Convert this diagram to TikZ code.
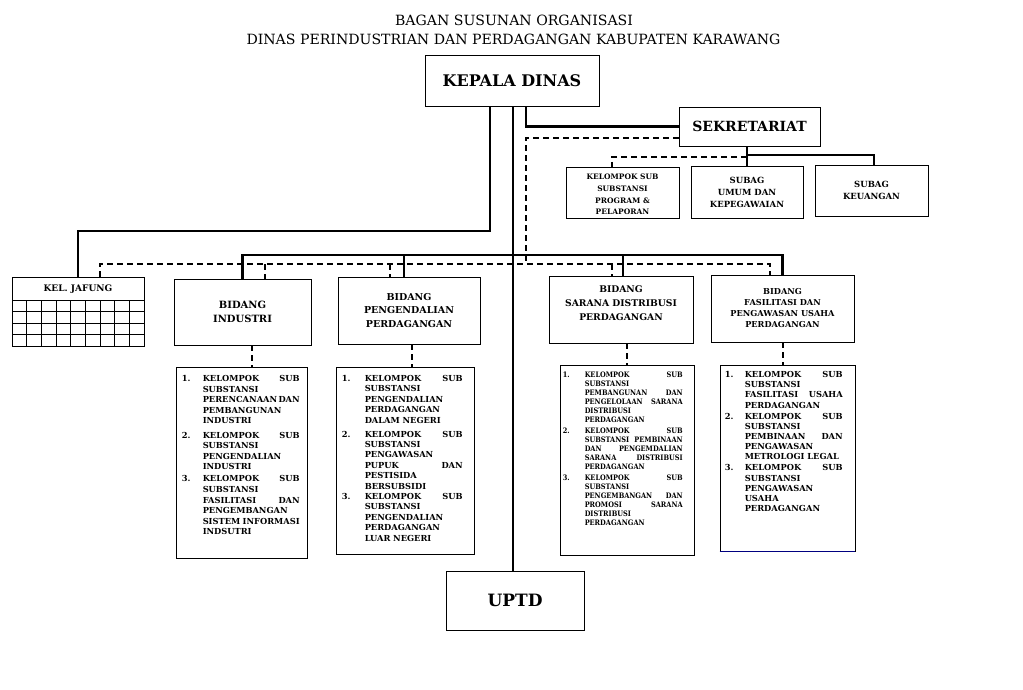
\documentclass[tikz,border=0pt]{standalone}
\usepackage{fontspec}
\setmainfont{DejaVu Serif}
\newfontfamily\lfontn[FakeStretch=0.88]{DejaVu Serif}
\hyphenpenalty=10000
\exhyphenpenalty=10000
\newlength\numw
\newcommand{\nl}{\unskip\nobreak\hfil\break}
\newcommand{\hs}{\nobreak\hfill}
\newcommand{\litem}[2]{\hangindent=\numw\hangafter=1\noindent\makebox[\numw][l]{#1}#2\par}
\begin{document}
\begin{tikzpicture}[x=1pt,y=-1pt,
  box/.style={draw, line width=0.9pt, inner sep=0pt, align=center},
  btxt/.style={inner sep=0pt, align=center},
  conn/.style={line width=2.2pt},
  dconn/.style={line width=1.2pt, dash pattern=on 6pt off 4pt},
  gridl/.style={line width=0.7pt},
  ltxt/.style={inner sep=0pt, anchor=base west}]
\useasboundingbox (0,0) rectangle (1023,690);
% titles
\node[font=\fontsize{14.1}{17}\selectfont] (t1) at (514,20) {BAGAN SUSUNAN ORGANISASI};
\node[font=\fontsize{14.1}{17}\selectfont] (t2) at (513.5,39) {DINAS PERINDUSTRIAN DAN PERDAGANGAN KABUPATEN KARAWANG};
% top boxes
\node[box, minimum width=174pt, minimum height=51pt, font=\bfseries\fontsize{16}{19}\selectfont] (kd) at (512,80.5) {KEPALA DINAS};
\node[box, minimum width=141pt, minimum height=39pt, font=\bfseries\fontsize{14}{17}\selectfont] (sek) at (749.5,126.5) {SEKRETARIAT};
\node[box, minimum width=113pt, minimum height=51pt] (kel) at (622.5,192.5) {};
\node[btxt, font=\bfseries\fontsize{7.5}{11.8}\selectfont] (kelt) at (622.5,194.5) {KELOMPOK SUB\\SUBSTANSI\\PROGRAM \&\\PELAPORAN};
\node[box, minimum width=112pt, minimum height=52pt, font=\bfseries\fontsize{8.5}{12}\selectfont] (umum) at (747,192) {SUBAG\\UMUM DAN\\KEPEGAWAIAN};
\node[box, minimum width=113pt, minimum height=51pt, font=\bfseries\fontsize{8.5}{12}\selectfont] (keu) at (871.5,190.5) {SUBAG\\KEUANGAN};
% jafung
\node[box, minimum width=132pt, minimum height=69pt] (jaf) at (78,311.5) {};
\node[font=\bfseries\fontsize{9}{10}\selectfont, inner sep=0pt] (jaft) at (78,289) {KEL. JAFUNG};
\foreach \yy in {300,311.5,323,334.5} \draw[gridl] (12,\yy) -- (144,\yy);
\foreach \k in {1,...,8} \draw[gridl] ({12+\k*14.667},300) -- ({12+\k*14.667},346);
% bidang
\node[box, minimum width=137pt, minimum height=66pt, font=\bfseries\fontsize{10}{14.5}\selectfont] (ind) at (242.5,312) {BIDANG\\INDUSTRI};
\node[box, minimum width=142pt, minimum height=67pt, font=\bfseries\fontsize{9.5}{13.5}\selectfont] (peng) at (409,310.5) {BIDANG\\PENGENDALIAN\\PERDAGANGAN};
\node[box, minimum width=144pt, minimum height=67pt] (sar) at (621,309.5) {};
\node[btxt, font=\bfseries\fontsize{9.2}{14}\selectfont] (sart) at (621,303.5) {BIDANG\\SARANA DISTRIBUSI\\PERDAGANGAN};
\node[box, minimum width=143pt, minimum height=67pt, font=\bfseries\fontsize{8.2}{11}\selectfont] (fas) at (782.5,308.5) {BIDANG\\FASILITASI DAN\\PENGAWASAN USAHA\\PERDAGANGAN};
% list boxes
\node[box, minimum width=131pt, minimum height=191pt] (lind) at (241.5,462.5) {};
\node[box, minimum width=138pt, minimum height=187pt] (lpeng) at (405,460.5) {};
\node[box, minimum width=134pt, minimum height=190pt] (lsar) at (627,460) {};
\node[box, minimum width=135pt, minimum height=186pt] (lfas) at (787.5,458) {};
\draw[line width=1pt, color=blue!50!black] (lfas.south west) -- (lfas.south east);
% list texts
\node[ltxt, text width=118pt, font=\bfseries\fontsize{8.3}{10.6}\selectfont] (lindt) at ([shift={(6,15)}]lind.north west) {\setlength\numw{21pt}%
\litem{1.}{KELOMPOK\hs SUB\nl SUBSTANSI\nl PERENCANAAN\hs DAN\nl PEMBANGUNAN\nl INDUSTRI}\vspace{3.5pt}%
\litem{2.}{KELOMPOK\hs SUB\nl SUBSTANSI\nl PENGENDALIAN\nl INDUSTRI}\vspace{1.5pt}%
\litem{3.}{KELOMPOK\hs SUB\nl SUBSTANSI\nl FASILITASI\hs DAN\nl PENGEMBANGAN\nl SISTEM\hs INFORMASI\nl INDSUTRI}};
\node[ltxt, text width=121pt, font=\bfseries\fontsize{8.3}{10.4}\selectfont] (lpengt) at ([shift={(6,15)}]lpeng.north west) {\setlength\numw{23pt}%
\litem{1.}{KELOMPOK\hs SUB\nl SUBSTANSI\nl PENGENDALIAN\nl PERDAGANGAN\nl DALAM~NEGERI}\vspace{3.5pt}%
\litem{2.}{KELOMPOK\hs SUB\nl SUBSTANSI\nl PENGAWASAN\nl PUPUK\hs DAN\nl PESTISIDA\nl BERSUBSIDI}%
\litem{3.}{KELOMPOK\hs SUB\nl SUBSTANSI\nl PENGENDALIAN\nl PERDAGANGAN\nl LUAR~NEGERI}};
\node[ltxt, text width=120pt, font=\lfontn\bfseries\fontsize{7.5}{9}\selectfont] (lsart) at ([shift={(3,12.7)}]lsar.north west) {\setlength\numw{22pt}%
\litem{1.}{KELOMPOK\hs SUB\nl SUBSTANSI\nl PEMBANGUNAN\hs DAN\nl PENGELOLAAN\hs SARANA\nl DISTRIBUSI\nl PERDAGANGAN}\vspace{2pt}%
\litem{2.}{KELOMPOK\hs SUB\nl SUBSTANSI\hs PEMBINAAN\nl DAN\hs PENGEMDALIAN\nl SARANA\hs DISTRIBUSI\nl PERDAGANGAN}\vspace{2.3pt}%
\litem{3.}{KELOMPOK\hs SUB\nl SUBSTANSI\nl PENGEMBANGAN\hs DAN\nl PROMOSI\hs SARANA\nl DISTRIBUSI\nl PERDAGANGAN}};
\node[ltxt, text width=118pt, font=\bfseries\fontsize{8.3}{10.2}\selectfont] (lfast) at ([shift={(5,13)}]lfas.north west) {\setlength\numw{20pt}%
\litem{1.}{KELOMPOK\hs SUB\nl SUBSTANSI\nl FASILITASI\hs USAHA\nl PERDAGANGAN}\vspace{0.8pt}%
\litem{2.}{KELOMPOK\hs SUB\nl SUBSTANSI\nl PEMBINAAN\hs DAN\nl PENGAWASAN\nl METROLOGI~LEGAL}\vspace{0.8pt}%
\litem{3.}{KELOMPOK\hs SUB\nl SUBSTANSI\nl PENGAWASAN\nl USAHA\nl PERDAGANGAN}};
% uptd
\node[box, minimum width=138pt, minimum height=59pt, font=\bfseries\fontsize{17}{20}\selectfont] (uptd) at (515,600.5) {UPTD};
% coordinates
\coordinate (Tx) at (513,0);
\coordinate (Sx) at (526,0);
\coordinate (Jx) at (490,0);
\coordinate (Jy) at (0,231);
\coordinate (By) at (0,255);
\coordinate (Dy) at (0,264);
\coordinate (Px) at (404,0);
\coordinate (Qx) at (623,0);
\coordinate (Ux) at (747,0);
\coordinate (Kx) at (874,0);
\coordinate (Ky) at (0,155);
\coordinate (Ky2) at (0,157);
\coordinate (Lx) at (612,0);
\coordinate (Sy) at (0,138);
\coordinate (Ax) at (100,0);
\coordinate (Ix) at (265,0);
\coordinate (Gx) at (390,0);
\coordinate (Rx) at (612,0);
\coordinate (Fx) at (770,0);
\coordinate (ix2) at (252,0);
\coordinate (gx2) at (412,0);
\coordinate (rx2) at (627,0);
\coordinate (fx2) at (783,0);
% solid connectors
\draw[conn] (kd.south -| Tx) -- (uptd.north -| Tx);
\draw[conn] (kd.south -| Sx) |- (sek.west);
\draw[conn] (kd.south -| Jx) |- (jaf.north |- Jy) -- (jaf.north);
\draw[conn] (ind.north) |- (fas.north |- By) -- (fas.north);
\draw[conn] (peng.north -| Px) -- (By -| Px);
\draw[conn] (sar.north -| Qx) -- (By -| Qx);
\draw[conn] (sek.south -| Ux) -- (umum.north -| Ux);
\draw[conn] (Ky -| Ux) -| (keu.north -| Kx);
% dashed connectors
\draw[dconn] (Ky2 -| Ux) -| (kel.north -| Lx);
\draw[dconn] (sek.west |- Sy) -| (Dy -| Sx);
\draw[dconn] (jaf.north -| Ax) |- (Dy -| Fx) -- (fas.north -| Fx);
\draw[dconn] (Dy -| Ix) -- (ind.north -| Ix);
\draw[dconn] (Dy -| Gx) -- (peng.north -| Gx);
\draw[dconn] (Dy -| Rx) -- (sar.north -| Rx);
\draw[dconn] (ind.south -| ix2) -- (lind.north -| ix2);
\draw[dconn] (peng.south -| gx2) -- (lpeng.north -| gx2);
\draw[dconn] (sar.south -| rx2) -- (lsar.north -| rx2);
\draw[dconn] (fas.south -| fx2) -- (lfas.north -| fx2);
\end{tikzpicture}
\end{document}
